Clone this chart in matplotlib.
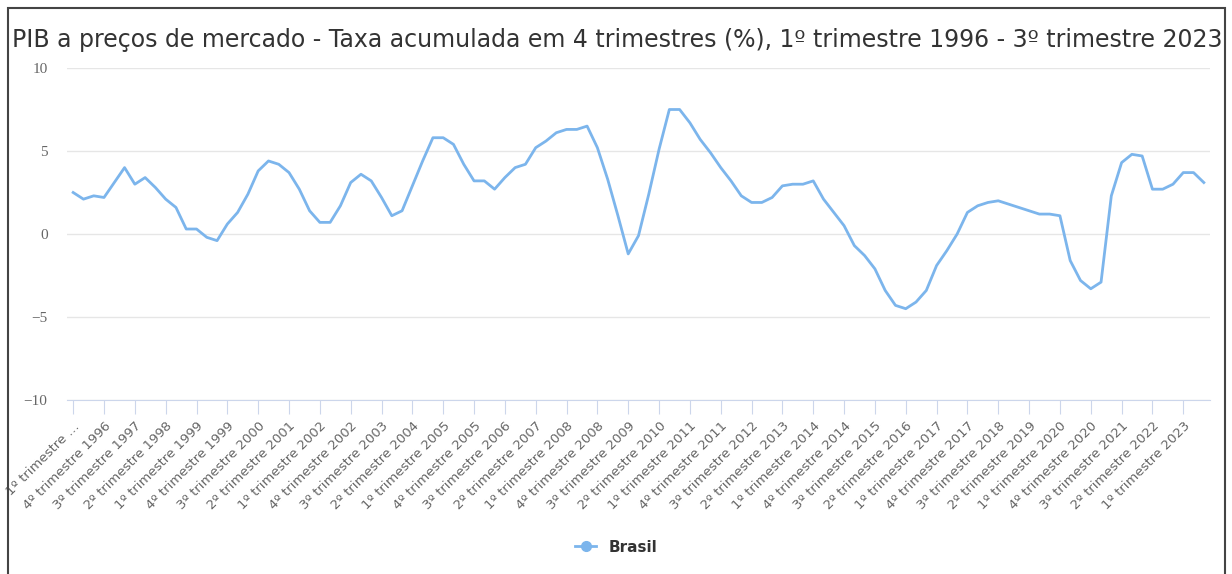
import matplotlib.pyplot as plt
from matplotlib.patches import Rectangle

# taxa acumulada em 4 trimestres (%), 1T1996 .. 3T2023
brasil = [
    2.5, 2.1, 2.3, 2.2,        # 1996
    3.1, 4.0, 3.0, 3.4,        # 1997
    2.8, 2.1, 1.6, 0.3,        # 1998
    0.3, -0.2, -0.4, 0.6,      # 1999
    1.3, 2.4, 3.8, 4.4,        # 2000
    4.2, 3.7, 2.7, 1.4,        # 2001
    0.7, 0.7, 1.7, 3.1,        # 2002
    3.6, 3.2, 2.2, 1.1,        # 2003
    1.4, 2.9, 4.4, 5.8,        # 2004
    5.8, 5.4, 4.2, 3.2,        # 2005
    3.2, 2.7, 3.4, 4.0,        # 2006
    4.2, 5.2, 5.6, 6.1,        # 2007
    6.3, 6.3, 6.5, 5.2,        # 2008
    3.3, 1.1, -1.2, -0.1,      # 2009
    2.4, 5.1, 7.5, 7.5,        # 2010
    6.7, 5.7, 4.9, 4.0,        # 2011
    3.2, 2.3, 1.9, 1.9,        # 2012
    2.2, 2.9, 3.0, 3.0,        # 2013
    3.2, 2.1, 1.3, 0.5,        # 2014
    -0.7, -1.3, -2.1, -3.4,    # 2015
    -4.3, -4.5, -4.1, -3.4,    # 2016
    -1.9, -1.0, 0.0, 1.3,      # 2017
    1.7, 1.9, 2.0, 1.8,        # 2018
    1.6, 1.4, 1.2, 1.2,        # 2019
    1.1, -1.6, -2.8, -3.3,     # 2020
    -2.9, 2.3, 4.3, 4.8,       # 2021
    4.7, 2.7, 2.7, 3.0,        # 2022
    3.7, 3.7, 3.1,             # 2023
]

quarters = []
for year in range(1996, 2024):
    for q in range(1, 5):
        quarters.append(f"{q}º trimestre {year}")
quarters = quarters[:len(brasil)]

x = list(range(len(brasil)))
tick_pos = x[::3]
tick_labels = quarters[::3]
tick_labels[0] = "1º trimestre …"

fig = plt.figure(figsize=(12.32, 5.74), dpi=100)
ax = fig.add_axes([67 / 1232, 1 - 400 / 574, (1210 - 67) / 1232, (400 - 68) / 574])

ax.plot(x, brasil, color="#7cb5ec", lw=2, label="Brasil")

ax.set_ylim(-10, 10)
ax.set_yticks([-10, -5, 0, 5, 10])
ax.set_yticklabels(["\u221210", "\u22125", "0", "5", "10"],
                   family="Liberation Serif", fontsize=11, color="#666666")
ax.set_xlim(-0.6, len(brasil) - 0.4)
ax.set_xticks(tick_pos)
ax.set_xticklabels(tick_labels, rotation=45, ha="right", va="top",
                   rotation_mode="anchor", fontsize=9.5, color="#666666")
ax.tick_params(axis="x", length=10, color="#ccd6eb", pad=4)
ax.tick_params(axis="y", length=0, pad=14)

ax.grid(axis="y", color="#e6e6e6", lw=1)
ax.set_axisbelow(True)
for side in ["top", "right", "left"]:
    ax.spines[side].set_visible(False)
ax.spines["bottom"].set_color("#ccd6eb")

fig.text(12 / 1232, 1 - 40 / 574,
         "PIB a preços de mercado - Taxa acumulada em 4 trimestres (%), 1º trimestre 1996 - 3º trimestre 2023",
         fontsize=17.0, color="#333333", ha="left", va="center")

leg = fig.legend(loc="center", bbox_to_anchor=(0.5, 1 - 547 / 574), frameon=False,
                 handlelength=1.4, fontsize=11)
leg.get_lines()[0].set_marker("o")
leg.get_lines()[0].set_markersize(7)
for t in leg.get_texts():
    t.set_fontweight("bold")
    t.set_color("#333333")

fig.patches.append(Rectangle((8 / 1232, -0.05), (1225 - 8) / 1232, 1.05 - 8 / 574,
                             transform=fig.transFigure, fill=False,
                             edgecolor="#444444", lw=1.5))

fig.savefig("out.png", dpi=100)
